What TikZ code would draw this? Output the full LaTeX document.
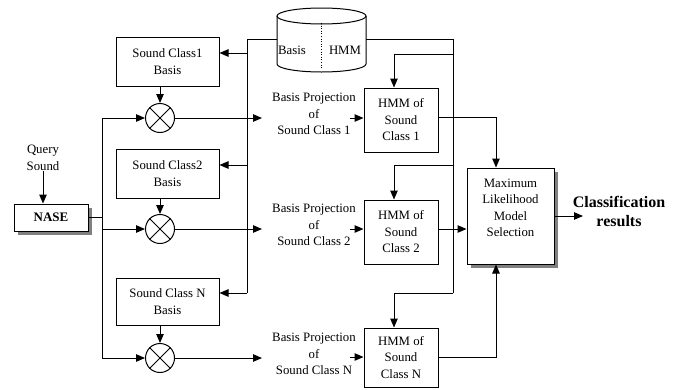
\documentclass[tikz,border=0pt]{standalone}
\usepackage{fontspec}
\setmainfont{Liberation Serif}
\usetikzlibrary{arrows.meta,shadows}

\begin{document}
\begin{tikzpicture}[x=1pt,y=1pt,line width=1pt,
  txt/.style={font=\fontsize{12.8}{16.5}\selectfont},
  box/.style={draw,fill=white,align=center,inner sep=0pt,txt},
  lbl/.style={align=center,inner sep=0pt,txt},
  mult/.style={draw,circle,minimum size=29pt,inner sep=0pt},
  arr/.style={-{Triangle[length=9pt,width=7.5pt]}},
  shadowed/.style={drop shadow={shadow xshift=4pt,shadow yshift=-4pt,fill=black!50,opacity=1}}
]
\useasboundingbox (0,0) rectangle (682,-389);

% ---- database cylinder ----
\draw[fill=white] (277,-16) -- (277,-64)
  arc[start angle=180,end angle=360,x radius=44.5,y radius=8] -- (366,-16);
\draw (321.5,-16) ellipse[x radius=44.5,y radius=8];
\draw[dotted,line width=0.6pt] (321,-23) -- (321,-68);
\node[lbl] (dbBasis) at (292,-50) {Basis};
\node[lbl] (dbHMM) at (345,-50) {HMM};
\coordinate (dbL) at (277,-39);
\coordinate (dbR) at (366,-39);

% ---- input ----
\node[lbl] (query) at (43,-158) {Query\\Sound};
\node[box,shadowed,minimum width=74pt,minimum height=27pt,
      font=\bfseries\fontsize{13}{15}\selectfont] (nase) at (51,-217.5) {NASE};
\draw[arr] (query.south) -- (query.south |- nase.north);

% ---- basis boxes and multipliers ----
\node[box,minimum width=103pt,minimum height=49pt] (sc1) at (167.5,-61.5) {Sound Class1\\Basis};
\node[box,minimum width=103pt,minimum height=49pt] (sc2) at (167.5,-173.5) {Sound Class2\\Basis};
\node[box,minimum width=103pt,minimum height=47pt] (scN) at (167.5,-301.5) {Sound Class N\\Basis};

\node[mult] (x1) at (160,-118) {};
\node[mult] (x2) at (160,-229) {};
\node[mult] (xN) at (160,-358) {};
\foreach \m in {x1,x2,xN}{
  \draw (\m.north west) -- (\m.south east);
  \draw (\m.north east) -- (\m.south west);
}
\draw[arr] (sc1.south -| x1) -- (x1.north);
\draw[arr] (sc2.south -| x2) -- (x2.north);
\draw[arr] (scN.south -| xN) -- (xN.north);

% ---- feature bus from NASE ----
\coordinate (in1) at (102,-118);
\coordinate (in2) at (102,-229);
\coordinate (inN) at (102,-358);
\draw (nase.east) -- (nase.east -| in1);
\draw (in1) -- (inN);
\draw[arr] (in1) -- (x1.west);
\draw[arr] (in2) -- (x2.west);
\draw[arr] (inN) -- (xN.west);

% ---- basis bus from the database ----
\coordinate (lb0) at (247,-39);
\coordinate (lb1) at (247,-53);
\coordinate (lb2) at (247,-165);
\coordinate (lbN) at (247,-293);
\draw (dbL) -- (lb0) -- (lbN);
\draw[arr] (lb1) -- (lb1 -| sc1.east);
\draw[arr] (lb2) -- (lb2 -| sc2.east);
\draw[arr] (lbN) -- (lbN -| scN.east);

% ---- projections ----
\coordinate (pe1) at (262,-118);
\coordinate (pe2) at (262,-229);
\coordinate (peN) at (262,-358);
\draw[arr] (x1.east) -- (pe1);
\draw[arr] (x2.east) -- (pe2);
\draw[arr] (xN.east) -- (peN);
\node[lbl] (p1) at (314,-114) {Basis Projection\\of\\Sound Class 1};
\node[lbl] (p2) at (314,-225) {Basis Projection\\of\\Sound Class 2};
\node[lbl] (pN) at (314,-354) {Basis Projection\\of\\Sound Class N};

% ---- HMM boxes ----
\node[box,minimum width=74pt,minimum height=64pt] (hmm1) at (401,-120) {HMM of\\Sound\\Class 1};
\node[box,minimum width=74pt,minimum height=64pt] (hmm2) at (401,-232) {HMM of\\Sound\\Class 2};
\node[box,minimum width=74pt,minimum height=59pt] (hmmN) at (401,-357.5) {HMM of\\Sound\\Class N};

\coordinate (ps1) at (350,-118);
\coordinate (ps2) at (350,-229);
\coordinate (psN) at (350,-357);
\draw[arr] (ps1) -- (ps1 -| hmm1.west);
\draw[arr] (ps2) -- (ps2 -| hmm2.west);
\draw[arr] (psN) -- (psN -| hmmN.west);

% ---- model bus from the database ----
\coordinate (rb0) at (453,-39);
\coordinate (rb1) at (453,-54);
\coordinate (rb2) at (453,-165);
\coordinate (rbN) at (453,-293);
\coordinate (rx) at (394,0);
\draw (dbR) -- (rb0) -- (rbN);
\draw[arr] (rb1) -- (rb1 -| rx) -- (rx |- hmm1.north);
\draw[arr] (rb2) -- (rb2 -| rx) -- (rx |- hmm2.north);
\draw[arr] (rbN) -- (rbN -| rx) -- (rx |- hmmN.north);

% ---- model selection ----
\node[draw,fill=white,shadowed,minimum width=87pt,minimum height=96pt] (mlms) at (510.5,-216) {};
\node[lbl] (mlmsText) at (510.5,-208) {Maximum\\Likelihood\\Model\\Selection};
\coordinate (mx) at (496,0);
\coordinate (ho1) at (438,-117);
\coordinate (ho2) at (438,-229);
\coordinate (hoN) at (438,-357);
\draw[arr] (ho1) -- (ho1 -| mx) -- (mx |- mlms.north);
\draw[arr] (ho2) -- (ho2 -| mlms.west);
\draw[arr] (hoN) -- (hoN -| mx) -- (mx |- mlms.south);

\coordinate (out) at (583,-216);
\draw[arr] (mlms.east) -- (out);
\node[align=center,inner sep=0pt,font=\bfseries\fontsize{16}{19}\selectfont] (res) at (619,-211) {Classification\\results};
\end{tikzpicture}
\end{document}
